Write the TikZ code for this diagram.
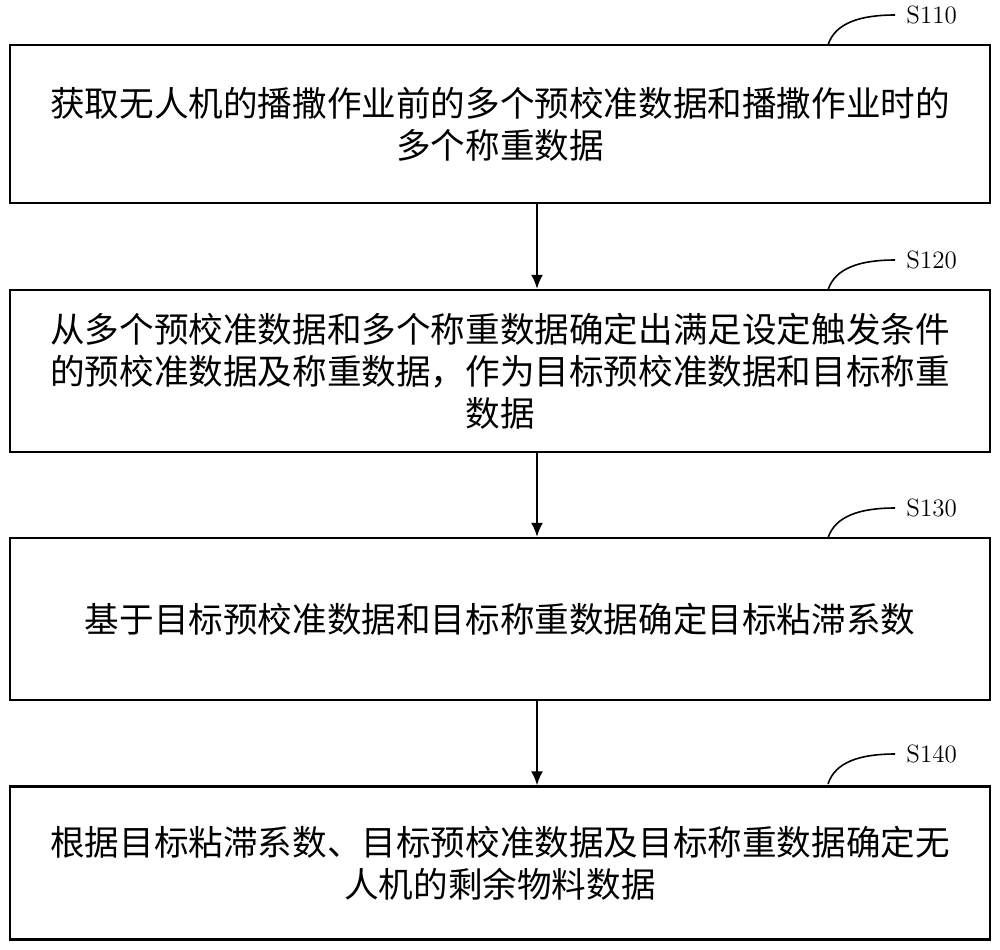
\documentclass[tikz,border=0pt]{standalone}
\usepackage{fontspec}
\newfontfamily\cjk{Noto Sans CJK SC}
\begin{document}
\begin{tikzpicture}[x=0.5pt,y=-0.5pt,
  box/.style={draw,line width=1.2pt,minimum width=980*0.5pt,align=center,font=\cjk\fontsize{17.3}{21}\selectfont},
  arr/.style={-{Latex[length=7pt,width=6pt]},line width=1pt},
  lab/.style={font=\fontsize{12.5}{13}\selectfont}]
\usetikzlibrary{arrows.meta}
\useasboundingbox (0,0) rectangle (1000,949);
\node[box,minimum height=158*0.5pt] (b1) at (500,124) {获取无人机的播撒作业前的多个预校准数据和播撒作业时的\\多个称重数据};
\node[box,minimum height=162*0.5pt] (b2) at (500,371) {从多个预校准数据和多个称重数据确定出满足设定触发条件\\的预校准数据及称重数据，作为目标预校准数据和目标称重\\数据};
\node[box,minimum height=162*0.5pt] (b3) at (500,619) {基于目标预校准数据和目标称重数据确定目标粘滞系数};
\node[box,minimum height=153*0.5pt] (b4) at (500,863) {根据目标粘滞系数、目标预校准数据及目标称重数据确定无\\人机的剩余物料数据};
\draw[arr] (b1.south -| 537,0) -- (b2.north -| 537,0);
\draw[arr] (b2.south -| 537,0) -- (b3.north -| 537,0);
\draw[arr] (b3.south -| 537,0) -- (b4.north -| 537,0);
\foreach \b/\t/\y in {b1/S110/15,b2/S120/260,b3/S130/508,b4/S140/754}{
  \coordinate (c\b) at (828,\y+30);
  \draw[line width=0.8pt] (c\b) .. controls (835,\y+8) and (860,\y) .. (895,\y) node[lab,right=2pt] (l\b) {\t};
}
\end{tikzpicture}
\end{document}
